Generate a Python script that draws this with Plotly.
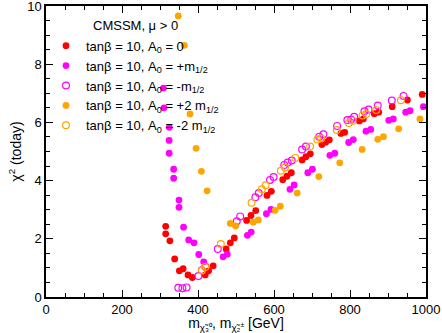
import plotly.graph_objects as go

# A0 = 0 (red filled)
x_a0 = [315, 315, 326, 338.6, 351, 361, 373.7, 385, 419, 428, 440, 474, 485, 495.5, 528, 539.5, 552,
        581.6, 593, 623, 634, 645.6, 674, 684, 695.6, 726, 736, 745.6, 776, 786, 824.5, 835, 864, 875.5,
        911, 951, 990]
y_a0 = [2.43, 2.17, 1.93, 1.31, 0.90, 0.97, 0.76, 0.67, 0.76, 0.90, 1.07, 1.65, 1.86, 2.03, 2.63, 2.80, 2.97,
        3.49, 3.63, 4.03, 4.15, 4.27, 4.71, 4.82, 4.92, 5.24, 5.32, 5.40, 5.62, 5.66, 6.05, 6.12, 6.30, 6.35,
        6.54, 6.77, 6.96]

# A0 = +m1/2 (magenta filled)
x_p1 = [309, 310.5, 324.5, 324, 324, 336, 336, 350, 350, 362, 375.5, 389.5, 402, 415, 466, 477, 530, 540,
        580, 592, 642, 653, 689, 701, 747, 760, 796.5, 808.7, 842, 854.5, 902, 914, 946.6, 958, 993]
y_p1 = [7.18, 6.50, 5.83, 5.38, 4.94, 4.39, 4.08, 3.33, 3.08, 2.40, 1.96, 1.86, 1.46, 1.21, 1.38, 1.47, 2.12, 2.23,
        2.86, 3.01, 3.70, 3.85, 4.27, 4.39, 4.87, 4.94, 5.31, 5.41, 5.70, 5.76, 6.07, 6.12, 6.35, 6.40, 6.54]

# A0 = -m1/2 (magenta open)
x_m1 = [348, 359, 370, 401, 410, 420, 452, 502, 511, 551, 560, 589.5, 599, 627, 636, 646.6, 674, 684,
        719, 730, 766, 793, 803, 811, 838, 849, 873, 910, 941]
y_m1 = [0.32, 0.30, 0.33, 0.72, 0.92, 1.04, 1.65, 2.60, 2.77, 3.43, 3.57, 4.02, 4.12, 4.54, 4.62, 4.69, 5.07, 5.17,
        5.51, 5.59, 5.88, 6.08, 6.10, 6.19, 6.38, 6.44, 6.58, 6.75, 6.91]

# A0 = +2 m1/2 (orange filled)
x_p2 = [348, 364, 379, 395, 409, 424, 485, 499, 545.6, 558.7, 603, 616.6, 661, 718, 773, 832, 873, 888, 928, 984]
y_p2 = [9.66, 8.65, 6.29, 5.11, 4.32, 3.65, 2.53, 2.44, 2.57, 2.65, 2.98, 3.12, 3.57, 4.14, 4.61, 5.07, 5.42, 5.51,
        5.78, 6.12]

# A0 = -2 m1/2 (orange open)
x_m2 = [410, 419, 460, 541, 568, 578, 618, 629, 656, 695, 714, 724, 765, 797, 807, 833, 843, 869, 934]
y_m2 = [0.91, 1.03, 1.82, 3.24, 3.70, 3.84, 4.34, 4.45, 4.78, 5.17, 5.41, 5.45, 5.74, 5.98, 6.06, 6.24, 6.29,
        6.43, 6.76]

series = [
    ("tanβ = 10, A<sub>0</sub> = 0", x_a0, y_a0, "#ff0000", "circle"),
    ("tanβ = 10, A<sub>0</sub> = +m<sub>1/2</sub>", x_p1, y_p1, "#ff00ff", "circle"),
    ("tanβ = 10, A<sub>0</sub> = -m<sub>1/2</sub>", x_m1, y_m1, "#ff00ff", "circle-open"),
    ("tanβ = 10, A<sub>0</sub> = +2 m<sub>1/2</sub>", x_p2, y_p2, "#ffa500", "circle"),
    ("tanβ = 10, A<sub>0</sub> = -2 m<sub>1/2</sub>", x_m2, y_m2, "#ffa500", "circle-open"),
]

fig = go.Figure()
for name, xs, ys, col, sym in series:
    fig.add_trace(go.Scatter(
        x=xs, y=ys, mode="markers", name=name,
        marker=dict(color=col, symbol=sym, size=6.8,
                    line=dict(color=col, width=1.2) if "open" in sym else dict(width=0)),
    ))

font_family = "Liberation Sans, Arial, sans-serif"
fig.update_layout(
    width=442, height=333,
    margin=dict(l=46, r=16, t=6, b=36, autoexpand=False),
    plot_bgcolor="white", paper_bgcolor="white",
    font=dict(family=font_family, size=12, color="black"),
    showlegend=True,
    legend=dict(x=0.0, y=0.915, xanchor="left", yanchor="top",
                bgcolor="rgba(0,0,0,0)", font=dict(size=13), itemwidth=30,
                tracegroupgap=0),
    annotations=[dict(text="CMSSM, μ > 0", x=0.118, y=0.965, xref="paper", yref="paper",
                      xanchor="left", yanchor="top", showarrow=False, font=dict(size=13))],
)
fig.update_xaxes(
    range=[0, 1000], tickvals=[0, 200, 400, 600, 800, 1000], automargin=False,
    ticklabeloverflow="allow",
    ticks="inside", ticklen=7, tickwidth=1.2, tickcolor="black",
    minor=dict(dtick=50, ticks="inside", ticklen=4, tickcolor="black", tickwidth=1),
    showline=True, linecolor="black", linewidth=1.5, mirror="ticks",
    showgrid=False, zeroline=False,
    tickfont=dict(size=13),
    title=dict(text="m<sub>χ̃₃⁰</sub>, m<sub>χ̃₂<sup>±</sup></sub> [GeV]", font=dict(size=14), standoff=0),
)
fig.update_yaxes(
    range=[0, 10], tickvals=[0, 2, 4, 6, 8, 10], automargin=False,
    ticklabeloverflow="allow",
    ticks="inside", ticklen=7, tickwidth=1.2, tickcolor="black",
    minor=dict(dtick=0.5, ticks="inside", ticklen=4, tickcolor="black", tickwidth=1),
    showline=True, linecolor="black", linewidth=1.5, mirror="ticks",
    showgrid=False, zeroline=False,
    tickfont=dict(size=13),
    title=dict(text="χ<sup>2</sup> (today)", font=dict(size=14), standoff=2),
)
fig.write_html("out.html", config={"displayModeBar": False},
               post_script="document.body.style.margin='0';document.body.style.overflow='hidden';")
